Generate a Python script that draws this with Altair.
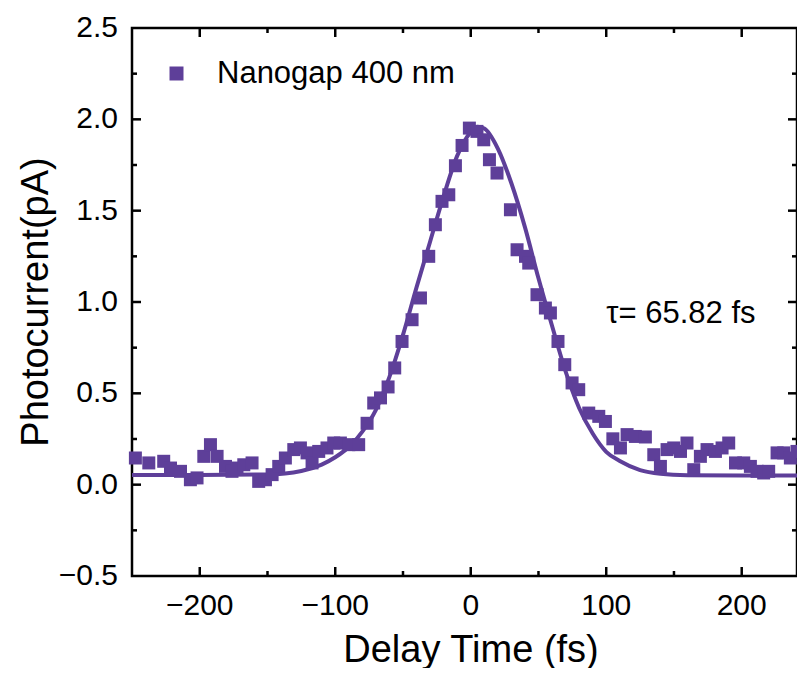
import altair as alt
import pandas as pd

# ---- data ----
pts_x = [-247.5, -237.6, -226.6, -221.6, -214.2, -206.9, -202.0, -197.0, -192.1, -187.2,
         -181.0, -176.2, -172.5, -167.5, -161.4, -156.5, -151.5, -146.6, -141.7, -136.8,
         -130.6, -125.7, -120.8, -117.1, -112.2, -106.1, -101.1, -96.2, -90.0, -82.7,
         -76.5, -71.6, -66.6, -61.0, -56.1, -50.7, -43.3, -37.1, -31.0, -26.1,
         -21.2, -16.2, -11.3, -6.4, -1.0, 4.6, 9.6, 13.8, 19.4, 29.3,
         34.2, 40.4, 42.8, 48.9, 55.1, 58.8, 64.4, 69.4, 74.8, 79.7,
         87.1, 94.5, 99.4, 104.9, 110.5, 115.4, 121.5, 128.9, 135.1, 140.0,
         144.9, 149.8, 154.8, 159.6, 164.6, 169.5, 174.4, 180.6, 185.5, 190.4,
         195.4, 201.5, 206.4, 211.3, 216.2, 219.9, 226.1, 231.0, 235.9, 240.8, 245.8]
pts_y = [0.146, 0.119, 0.128, 0.091, 0.073, 0.027, 0.037, 0.155, 0.219, 0.155,
         0.100, 0.073, 0.091, 0.109, 0.119, 0.018, 0.027, 0.055, 0.100, 0.146,
         0.192, 0.201, 0.174, 0.119, 0.182, 0.201, 0.228, 0.228, 0.219, 0.219,
         0.336, 0.447, 0.475, 0.535, 0.639, 0.784, 0.903, 1.022, 1.250, 1.423,
         1.551, 1.587, 1.746, 1.857, 1.952, 1.934, 1.888, 1.779, 1.706, 1.505,
         1.286, 1.250, 1.213, 1.040, 0.967, 0.940, 0.784, 0.657, 0.557, 0.520,
         0.392, 0.374, 0.346, 0.251, 0.201, 0.274, 0.264, 0.261, 0.164, 0.100,
         0.192, 0.201, 0.182, 0.228, 0.082, 0.155, 0.192, 0.182, 0.201, 0.228,
         0.119, 0.119, 0.100, 0.073, 0.064, 0.073, 0.174, 0.174, 0.146, 0.182, 0.119]

fit_x = [-250, -200, -150, -125, -110, -100, -88, -80, -70, -60, -50, -40, -30, -20, -10,
         0, 5, 10, 20, 30, 40, 50, 60, 70, 80, 90, 100, 110, 125, 140, 160, 200, 246]
fit_y = [0.053, 0.053, 0.056, 0.075, 0.11, 0.15, 0.22, 0.29, 0.41, 0.59, 0.82, 1.08, 1.33,
         1.58, 1.80, 1.93, 1.96, 1.95, 1.84, 1.65, 1.41, 1.13, 0.87, 0.62, 0.42, 0.28, 0.18,
         0.13, 0.08, 0.06, 0.052, 0.05, 0.05]

series_name = "Nanogap 400 nm"
annot_text = "\u03c4= 65.82 fs"
annot_x = [100]
annot_y = [0.935]

x_title = "Delay Time (fs)"
y_title = "Photocurrent(pA)"

x_major = [-200, -100, 0, 100, 200]
x_major_labels = ["\u2212200", "\u2212100", "0", "100", "200"]
x_minor = [-150, -50, 50, 150]
y_label_vals = [-0.5, 0.0, 0.5, 1.0, 1.5, 2.0, 2.5]
y_label_text = ["\u22120.5", "0.0", "0.5", "1.0", "1.5", "2.0", "2.5"]
y_major = [0.0, 0.5, 1.0, 1.5, 2.0]
y_minor = [-0.25, 0.25, 0.75, 1.25, 1.75, 2.25]

# ---- styling ----
W, H = 665, 548
PURPLE = "#5E3F99"
FONT = "Liberation Sans"
XDOM = [-250, 240.8]
YDOM = [-0.5, 2.5]
MAJ, MIN = 9, 5
LW = 2.5

xs = alt.Scale(domain=XDOM, nice=False, zero=False)
ys = alt.Scale(domain=YDOM, nice=False, zero=False)

# ---- frame and inward ticks (each layer with its own data / field) ----
frame = alt.Chart(pd.DataFrame({"frame_k": [0]})).mark_rect(
    filled=False, stroke="black", strokeWidth=LW
).encode(x=alt.value(0), x2=alt.value(W), y=alt.value(0), y2=alt.value(H))

tick_layers = []
specs = [
    ("xa_bot", x_major, "x", H, H - MAJ),
    ("xa_top", x_major, "x", 0, MAJ),
    ("xb_bot", x_minor, "x", H, H - MIN),
    ("xb_top", x_minor, "x", 0, MIN),
    ("ya_left", y_major, "y", 0, MAJ),
    ("ya_right", y_major, "y", W, W - MAJ),
    ("yb_left", y_minor, "y", 0, MIN),
    ("yb_right", y_minor, "y", W, W - MIN),
]
for name, vals, ch, p1, p2 in specs:
    d = pd.DataFrame({name: vals})
    if ch == "x":
        enc = dict(x=alt.X(f"{name}:Q", scale=xs, axis=None),
                   y=alt.value(p1), y2=alt.value(p2))
    else:
        enc = dict(y=alt.Y(f"{name}:Q", scale=ys, axis=None),
                   x=alt.value(p1), x2=alt.value(p2))
    tick_layers.append(alt.Chart(d).mark_rule(color="black", strokeWidth=LW).encode(**enc))

# ---- tick labels and axis titles as text marks ----
xlab = alt.Chart(pd.DataFrame({"xl_v": x_major, "xl_txt": x_major_labels})).mark_text(
    fontSize=30, font=FONT, color="black", align="center", baseline="middle"
).encode(x=alt.X("xl_v:Q", scale=xs, axis=None), y=alt.value(H + 30), text="xl_txt:N")

ylab = alt.Chart(pd.DataFrame({"yl_v": y_label_vals, "yl_txt": y_label_text})).mark_text(
    fontSize=30, font=FONT, color="black", align="right", baseline="middle"
).encode(y=alt.Y("yl_v:Q", scale=ys, axis=None), x=alt.value(-14), text="yl_txt:N")

xttl = alt.Chart(pd.DataFrame({"xt_txt": [x_title]})).mark_text(
    fontSize=38, font=FONT, color="black", align="center", baseline="alphabetic"
).encode(x=alt.value(339), y=alt.value(634), text="xt_txt:N")

yttl = alt.Chart(pd.DataFrame({"yt_txt": [y_title]})).mark_text(
    fontSize=38, font=FONT, color="black", align="center", baseline="middle", angle=270
).encode(x=alt.value(-95), y=alt.value(H / 2), text="yt_txt:N")

# ---- data layers ----
fit = pd.DataFrame({"fit_t": fit_x, "fit_v": fit_y})
line = alt.Chart(fit).mark_line(color=PURPLE, strokeWidth=4, interpolate="monotone").encode(
    x=alt.X("fit_t:Q", scale=xs, axis=None),
    y=alt.Y("fit_v:Q", scale=ys, axis=None),
)

annot = alt.Chart(pd.DataFrame({"an_t": annot_x, "an_v": annot_y, "txt": [annot_text]})).mark_text(
    align="left", baseline="middle", fontSize=31, font=FONT, color="black"
).encode(x=alt.X("an_t:Q", scale=xs, axis=None), y=alt.Y("an_v:Q", scale=ys, axis=None),
         text="txt:N")

pts = pd.DataFrame({"t": pts_x, "v": pts_y, "s": series_name})
points = alt.Chart(pts).mark_square(size=169, opacity=1, filled=True).encode(
    x=alt.X("t:Q", scale=xs, axis=None),
    y=alt.Y("v:Q", scale=ys, axis=None),
    color=alt.Color("s:N", scale=alt.Scale(domain=[series_name], range=[PURPLE]),
                    legend=alt.Legend(title=None, orient="none", legendX=29, legendY=30,
                                      symbolType="square", symbolSize=196,
                                      symbolStrokeWidth=0, labelFontSize=31,
                                      labelFont=FONT, labelColor="black", labelLimit=1000,
                                      labelOffset=25, padding=0)),
)

layers = [frame] + tick_layers + [xlab, ylab, xttl, yttl, line, annot, points]

chart = alt.layer(*layers).properties(
    width=W, height=H,
    background="white",
    autosize=alt.AutoSizeParams(type="none"),
    padding={"left": 124, "top": 20, "right": 0, "bottom": 92},
).configure_view(stroke=None)

chart.save("out.html", embed_options={"renderer": "svg", "actions": False})
